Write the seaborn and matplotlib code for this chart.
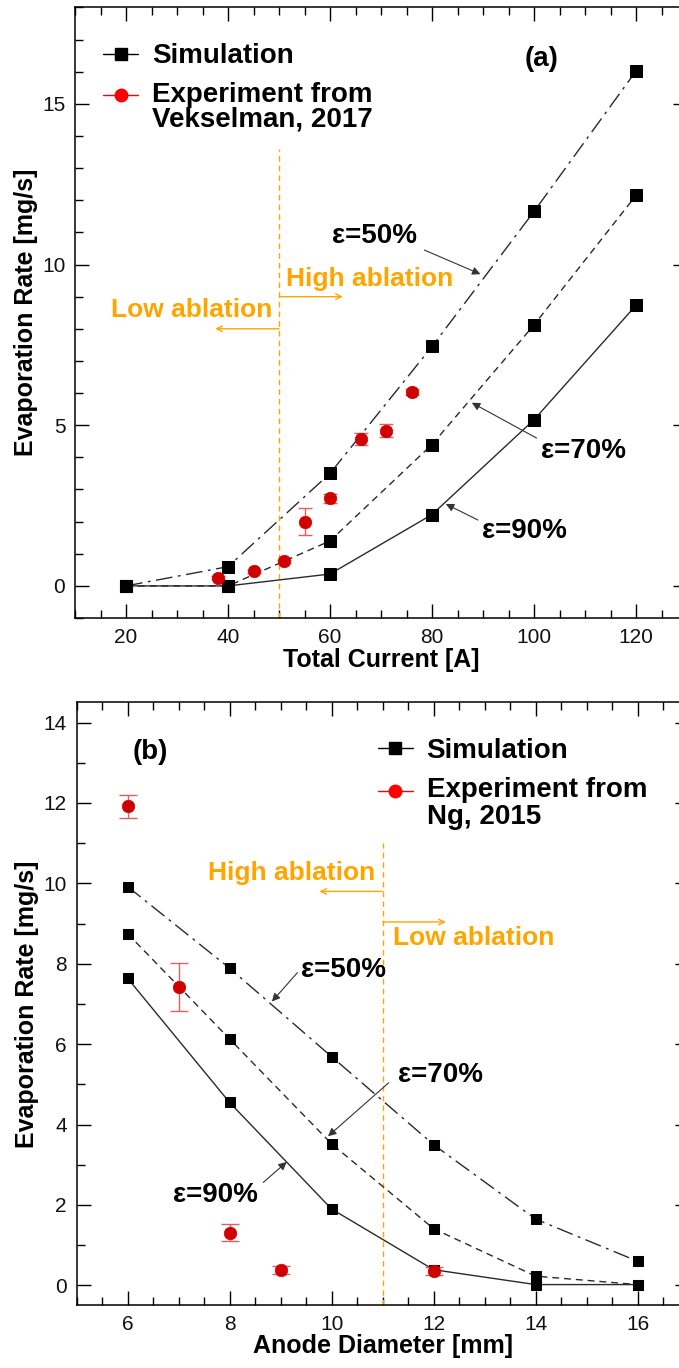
import numpy as np
import pandas as pd
import matplotlib
matplotlib.use("Agg")
import matplotlib.pyplot as plt
import seaborn as sns
from matplotlib.ticker import MultipleLocator
from matplotlib.lines import Line2D
from matplotlib.legend_handler import HandlerLine2D

# ---------------- data ----------------
current = [20, 40, 60, 80, 100, 120]
sim_a_50 = [0.0, 0.60, 3.50, 7.45, 11.65, 16.02]
sim_a_70 = [0.0, 0.0, 1.40, 4.40, 8.12, 12.15]
sim_a_90 = [0.0, 0.0, 0.37, 2.22, 5.17, 8.73]
exp_a_x = [38, 45, 51, 55, 60, 66, 71, 76]
exp_a_y = [0.25, 0.46, 0.76, 2.00, 2.72, 4.57, 4.83, 6.03]
exp_a_err = [0.05, 0.05, 0.05, 0.43, 0.15, 0.20, 0.20, 0.10]

diameter = [6, 8, 10, 12, 14, 16]
sim_b_50 = [9.92, 7.89, 5.69, 3.50, 1.65, 0.60]
sim_b_70 = [8.75, 6.13, 3.52, 1.41, 0.23, 0.02]
sim_b_90 = [7.64, 4.55, 1.90, 0.39, 0.02, 0.02]
exp_b_x = [6, 7, 8, 9, 12]
exp_b_y = [11.92, 7.43, 1.31, 0.38, 0.35]
exp_b_err = [0.29, 0.60, 0.21, 0.10, 0.10]

eps_labels = ["ε=50%", "ε=70%", "ε=90%"]

# ---------------- style ----------------
sns.set_theme(style="ticks")
FONT = ["Liberation Sans", "DejaVu Sans"]
plt.rcParams["font.family"] = FONT
plt.rcParams["axes.linewidth"] = 1.1
for k in ["text.color", "axes.labelcolor", "xtick.color", "ytick.color",
          "axes.edgecolor"]:
    plt.rcParams[k] = "black"

ORANGE = "#FFA500"
RED = "#D00000"
ERR = "#E06060"
LINE = "#2a2a2a"
styles = [(0, (12, 4, 2, 4)), (0, (5, 3.5)), "-"]

fig = plt.figure(figsize=(6.79, 13.68), dpi=100)
ax1 = fig.add_axes([0.1105, 0.5482, 0.9013, 0.4464])
ax2 = fig.add_axes([0.1128, 0.0457, 0.9013, 0.4408])


def style_axes(ax, xmaj, xmin, ymaj, ymin):
    ax.xaxis.set_major_locator(MultipleLocator(xmaj))
    ax.xaxis.set_minor_locator(MultipleLocator(xmin))
    ax.yaxis.set_major_locator(MultipleLocator(ymaj))
    ax.yaxis.set_minor_locator(MultipleLocator(ymin))
    ax.tick_params(which="both", direction="in", top=True, right=True,
                   color="black", width=1.0)
    ax.tick_params(which="major", length=10, labelsize=15, pad=7,
                   labelcolor="#111111")
    ax.tick_params(which="minor", length=5.5)
    for s in ax.spines.values():
        s.set_color("black")
        s.set_linewidth(1.1)


def draw_panel(ax, x, sims, ex, ey, eerr, ms_sq, ms_ci, cap):
    for ys, ls in zip(sims, styles):
        df = pd.DataFrame({"x": x, "y": ys})
        sns.lineplot(data=df, x="x", y="y", ax=ax, color=LINE, linewidth=1.0,
                     linestyle=ls, marker="s", markersize=ms_sq,
                     markerfacecolor="black", markeredgecolor="black",
                     legend=False, zorder=3)
    ax.errorbar(ex, ey, yerr=eerr, fmt="none", ecolor=ERR, elinewidth=1.0,
                capsize=cap, capthick=1.0, zorder=4)
    dfe = pd.DataFrame({"x": ex, "y": ey})
    sns.scatterplot(data=dfe, x="x", y="y", ax=ax, color=RED, s=ms_ci ** 2,
                    edgecolor=RED, linewidth=0.5, zorder=5, legend=False)


class TopLineHandler(HandlerLine2D):
    """Place the handle level with the first line of a two-line label."""
    def __init__(self, offset, **kw):
        super().__init__(**kw)
        self.offset = offset

    def create_artists(self, legend, orig_handle, xdescent, ydescent, width,
                       height, fontsize, trans):
        arts = super().create_artists(legend, orig_handle, xdescent, ydescent,
                                      width, height, fontsize, trans)
        for a in arts:
            a.set_ydata(np.asarray(a.get_ydata()) + self.offset)
        return arts


def add_legend(ax, ref, anchor, linesp):
    h1 = Line2D([], [], color="black", lw=1.0, marker="s", markersize=8)
    h2 = Line2D([], [], color="red", lw=1.0, marker="o", markersize=9)
    labels = ["Simulation", "Experiment from\n" + ref]
    leg = ax.legend([h1, h2], labels, loc="upper left", bbox_to_anchor=anchor,
                    frameon=False, borderaxespad=0, borderpad=0,
                    handlelength=1.25, handletextpad=0.5, labelspacing=0.45,
                    prop={"family": FONT, "weight": "bold", "size": 20},
                    handler_map={h2: TopLineHandler(9.0)})
    for t in leg.get_texts():
        t.set_linespacing(linesp)
        t.set_color("black")
    return leg


def arrow(ax, start, end, color="#333333", style="-|>", lw=0.8, ms=12):
    ax.annotate("", xy=end, xytext=start,
                arrowprops=dict(arrowstyle=style, color=color, lw=lw,
                                mutation_scale=ms, shrinkA=0, shrinkB=0),
                zorder=6)


txt_kw = dict(fontsize=20, fontweight="bold", color="black", family=FONT)
orange_kw = dict(fontsize=19, fontweight="bold", color=ORANGE, family=FONT)
lab_kw = dict(fontsize=18, fontweight="bold", color="black")

# ---------------- panel (a) ----------------
draw_panel(ax1, current, [sim_a_50, sim_a_70, sim_a_90],
           exp_a_x, exp_a_y, exp_a_err, 8, 9, 5)
ax1.set_xlim(10, 130)
ax1.set_ylim(-1, 18)
style_axes(ax1, 20, 5, 5, 1)
ax1.set_xlabel("Total Current [A]", labelpad=1, **lab_kw)
ax1.set_ylabel("Evaporation Rate [mg/s]", labelpad=3, **lab_kw)
ax1.plot([50, 50], [-1, 13.6], color=ORANGE, lw=1.0, ls=(0, (4, 3)), zorder=2)
arrow(ax1, (50, 9.0), (62.5, 9.0), color=ORANGE, style="->", lw=1.0, ms=10)
arrow(ax1, (50, 8.0), (37.5, 8.0), color=ORANGE, style="->", lw=1.0, ms=10)
ax1.text(51.3, 9.55, "High ablation", ha="left", va="center", **orange_kw)
ax1.text(48.6, 8.58, "Low ablation", ha="right", va="center", **orange_kw)
ax1.text(101.4, 16.4, "(a)", ha="center", va="center", **txt_kw)
ax1.text(68.7, 10.9, eps_labels[0], ha="center", va="center", **txt_kw)
ax1.text(109.7, 4.2, eps_labels[1], ha="center", va="center", **txt_kw)
ax1.text(98.2, 1.7, eps_labels[2], ha="center", va="center", **txt_kw)
arrow(ax1, (78.5, 10.45), (89.5, 9.7))
arrow(ax1, (100.5, 4.6), (87.8, 5.7))
arrow(ax1, (89.0, 2.05), (82.7, 2.55))
add_legend(ax1, "Vekselman, 2017", (0.046, 0.941), 0.95)

# ---------------- panel (b) ----------------
draw_panel(ax2, diameter, [sim_b_50, sim_b_70, sim_b_90],
           exp_b_x, exp_b_y, exp_b_err, 6.5, 9, 6.5)
ax2.set_xlim(5, 17)
ax2.set_ylim(-0.5, 14.5)
style_axes(ax2, 2, 0.5, 2, 1)
ax2.set_xlabel("Anode Diameter [mm]", labelpad=0, **lab_kw)
ax2.set_ylabel("Evaporation Rate [mg/s]", labelpad=3, **lab_kw)
ax2.plot([11, 11], [-0.5, 11.0], color=ORANGE, lw=1.0, ls=(0, (4, 3)), zorder=2)
arrow(ax2, (11, 9.8), (9.76, 9.8), color=ORANGE, style="->", lw=1.0, ms=10)
arrow(ax2, (11, 9.04), (12.24, 9.04), color=ORANGE, style="->", lw=1.0, ms=10)
ax2.text(10.86, 10.26, "High ablation", ha="right", va="center", **orange_kw)
ax2.text(11.2, 8.64, "Low ablation", ha="left", va="center", **orange_kw)
ax2.text(6.45, 13.27, "(b)", ha="center", va="center", **txt_kw)
ax2.text(10.23, 7.84, eps_labels[0], ha="center", va="center", **txt_kw)
ax2.text(12.14, 5.23, eps_labels[1], ha="center", va="center", **txt_kw)
ax2.text(7.72, 2.26, eps_labels[2], ha="center", va="center", **txt_kw)
arrow(ax2, (9.33, 7.78), (8.83, 7.06))
arrow(ax2, (11.12, 5.04), (9.93, 3.71))
arrow(ax2, (8.66, 2.56), (9.12, 3.07))
add_legend(ax2, "Ng, 2015", (0.4925, 0.941), 1.05)

fig.savefig("out.png", dpi=100)
